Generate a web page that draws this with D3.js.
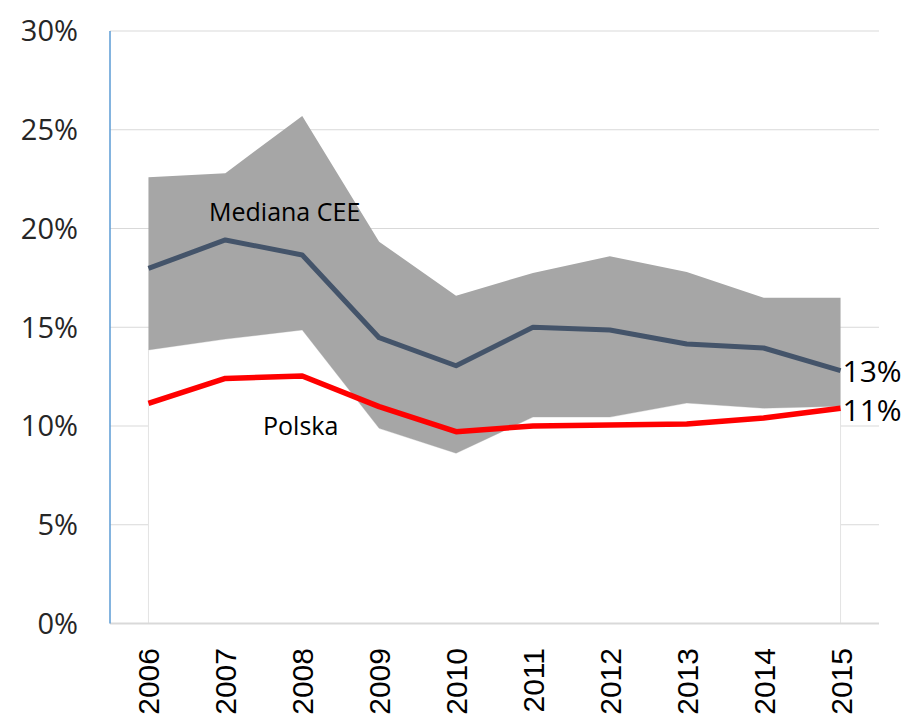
<!DOCTYPE html>
<html>
<head>
<meta charset="utf-8">
<script src="https://cdn.jsdelivr.net/npm/d3@7"></script>
<style>
body { margin: 0; background: #fff; }
svg { display: block; }
</style>
</head>
<body>
<div id="chart"></div>
<script>
// data
var years = ["2006","2007","2008","2009","2010","2011","2012","2013","2014","2015"];
var lower = [13.85, 14.4, 14.86, 9.88, 8.62, 10.45, 10.45, 11.16, 10.9, 11.0];
var upper = [22.6, 22.8, 25.7, 19.33, 16.6, 17.75, 18.6, 17.8, 16.5, 16.5];
var median = [17.98, 19.42, 18.66, 14.47, 13.05, 15.0, 14.86, 14.15, 13.95, 12.8];
var polska = [11.15, 12.41, 12.53, 10.98, 9.71, 10.0, 10.05, 10.1, 10.4, 10.9];
var yTicks = [0, 5, 10, 15, 20, 25, 30];

var w = 904, h = 714;
var plotLeft = 110, plotRight = 879, plotTop = 31, plotBottom = 623.5;

var svg = d3.select("#chart").append("svg")
    .attr("width", w)
    .attr("height", h);

var x = d3.scalePoint()
    .domain(years)
    .range([plotLeft, plotRight])
    .padding(0.5);

var y = d3.scaleLinear()
    .domain([0, 30])
    .range([plotBottom, plotTop]);

// gridlines
svg.append("g")
    .selectAll("line")
    .data(yTicks.filter(function(d){ return d > 0; }))
    .enter().append("line")
    .attr("x1", plotLeft).attr("x2", plotRight)
    .attr("y1", function(d){ return y(d); })
    .attr("y2", function(d){ return y(d); })
    .attr("stroke", "#d9d9d9")
    .attr("stroke-width", 1);

var rows = years.map(function(yr, i){
    return { yr: yr, lo: lower[i], hi: upper[i], med: median[i], pl: polska[i] };
});

// white base of the band (covers gridlines)
svg.append("path")
    .datum(rows)
    .attr("fill", "#fff")
    .attr("stroke", "#e3e3e3")
    .attr("stroke-width", 1)
    .attr("d", d3.area()
        .x(function(d){ return x(d.yr); })
        .y0(y(0))
        .y1(function(d){ return y(d.lo); }));

// grey band min-max
svg.append("path")
    .datum(rows)
    .attr("fill", "#a6a6a6")
    .attr("d", d3.area()
        .x(function(d){ return x(d.yr); })
        .y0(function(d){ return y(d.lo); })
        .y1(function(d){ return y(d.hi); }));

// axes lines
svg.append("line")
    .attr("x1", plotLeft).attr("x2", plotRight)
    .attr("y1", y(0)).attr("y2", y(0))
    .attr("stroke", "#d9d9d9")
    .attr("stroke-width", 2);

svg.append("line")
    .attr("x1", plotLeft).attr("x2", plotLeft)
    .attr("y1", y(30)).attr("y2", y(0))
    .attr("stroke", "#5b9bd5")
    .attr("stroke-width", 1.5);

// lines
var line = function(key){
    return d3.line()
        .x(function(d){ return x(d.yr); })
        .y(function(d){ return y(d[key]); });
};

svg.append("path")
    .datum(rows)
    .attr("fill", "none")
    .attr("stroke", "#44546a")
    .attr("stroke-width", 5)
    .attr("stroke-linejoin", "round")
    .attr("d", line("med"));

svg.append("path")
    .datum(rows)
    .attr("fill", "none")
    .attr("stroke", "#ff0000")
    .attr("stroke-width", 5.5)
    .attr("stroke-linejoin", "round")
    .attr("d", line("pl"));

// y tick labels
svg.append("g")
    .selectAll("text")
    .data(yTicks)
    .enter().append("text")
    .attr("x", 78)
    .attr("y", function(d){ return y(d); })
    .attr("dy", "0.36em")
    .attr("text-anchor", "end")
    .attr("font-family", "'Open Sans', sans-serif")
    .attr("font-size", 29)
    .attr("fill", "#262626")
    .text(function(d){ return d + "%"; });

// x tick labels
svg.append("g")
    .selectAll("text")
    .data(years)
    .enter().append("text")
    .attr("transform", function(d){ return "translate(" + (x(d) + 11) + ",648) rotate(-90)"; })
    .attr("text-anchor", "end")
    .attr("font-family", "'Liberation Sans', Arial, sans-serif")
    .attr("font-size", 30)
    .attr("fill", "#000")
    .text(function(d){ return d; });

// series labels
svg.append("text")
    .attr("x", 209).attr("y", 221)
    .attr("font-family", "'Open Sans', sans-serif")
    .attr("font-size", 25)
    .attr("fill", "#000")
    .text("Mediana CEE");

svg.append("text")
    .attr("x", 263).attr("y", 435)
    .attr("font-family", "'Open Sans', sans-serif")
    .attr("font-size", 25)
    .attr("fill", "#000")
    .text("Polska");

// end value labels
var last = rows[rows.length - 1];
svg.append("text")
    .attr("x", x(last.yr) + 2)
    .attr("y", y(last.med))
    .attr("dy", "0.36em")
    .attr("font-family", "'Open Sans', sans-serif")
    .attr("font-size", 30)
    .attr("fill", "#000")
    .text(Math.round(last.med) + "%");

svg.append("text")
    .attr("x", x(last.yr) + 2)
    .attr("y", y(last.pl))
    .attr("dy", "0.44em")
    .attr("font-family", "'Open Sans', sans-serif")
    .attr("font-size", 30)
    .attr("fill", "#000")
    .text(Math.round(last.pl) + "%");
</script>
</body>
</html>
